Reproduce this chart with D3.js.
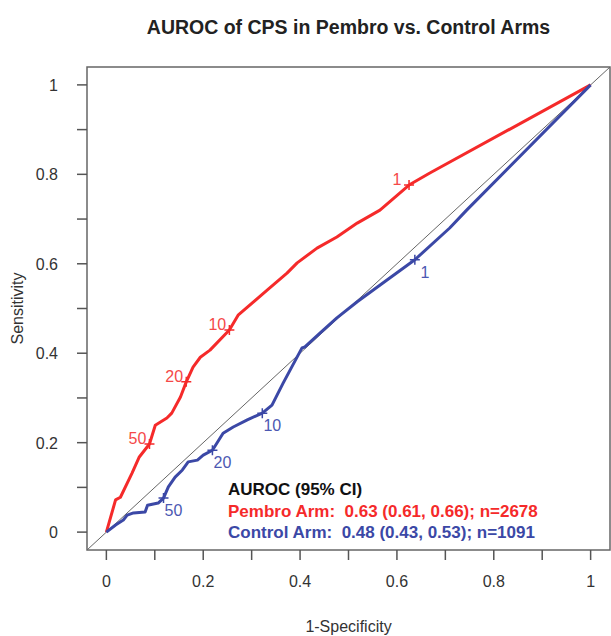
<!DOCTYPE html>
<html lang="en">
<head>
  <meta charset="UTF-8">
  <script src="https://d3js.org/d3.v7.min.js"></script>
  <title>AUROC of CPS</title>
  <style>
    body { margin: 0; background: #fff; font-family: "Liberation Sans", Arial, sans-serif; }
    .tick-label { font-size: 16px; fill: #333; }
    .axis-title { font-size: 16px; fill: #333; }
  </style>
</head>
<body>
  <svg id="chart" width="611" height="636"></svg>
  <script>
    // ROC curve points (1-specificity, sensitivity)
    const pembroFpr = [0, 0.019, 0.029, 0.053, 0.068, 0.089, 0.101, 0.125, 0.135, 0.153, 0.165, 0.179, 0.194, 0.214, 0.254, 0.272, 0.332, 0.373, 0.394, 0.435, 0.476, 0.518, 0.565, 0.625, 0.668, 1];
    const pembroTpr = [0, 0.072, 0.078, 0.132, 0.168, 0.197, 0.239, 0.255, 0.266, 0.302, 0.336, 0.369, 0.391, 0.407, 0.452, 0.485, 0.541, 0.579, 0.602, 0.635, 0.660, 0.691, 0.720, 0.776, 0.803, 1];

    const controlFpr = [0, 0.019, 0.035, 0.043, 0.056, 0.080, 0.085, 0.107, 0.118, 0.128, 0.142, 0.157, 0.169, 0.188, 0.200, 0.219, 0.241, 0.262, 0.291, 0.322, 0.342, 0.365, 0.404, 0.410, 0.441, 0.476, 0.518, 0.571, 0.637, 0.709, 0.744, 1];
    const controlTpr = [0, 0.016, 0.027, 0.038, 0.043, 0.045, 0.060, 0.065, 0.076, 0.101, 0.123, 0.139, 0.157, 0.161, 0.172, 0.183, 0.221, 0.235, 0.251, 0.266, 0.284, 0.333, 0.412, 0.414, 0.445, 0.479, 0.515, 0.557, 0.609, 0.680, 0.720, 1];

    // CPS cutoffs marked on each curve
    const cutoffLabels = ["50", "20", "10", "1"];
    const pembroCutFpr = [0.089, 0.165, 0.254, 0.625];
    const pembroCutTpr = [0.197, 0.336, 0.452, 0.776];
    const controlCutFpr = [0.118, 0.219, 0.322, 0.637];
    const controlCutTpr = [0.076, 0.183, 0.266, 0.609];

    const legendLines = [
      "AUROC (95% CI)",
      "Pembro Arm:  0.63 (0.61, 0.66); n=2678",
      "Control Arm:  0.48 (0.43, 0.53); n=1091"
    ];

    const xTicks = [0, 0.1, 0.2, 0.3, 0.4, 0.5, 0.6, 0.7, 0.8, 0.9, 1];
    const tickLabels = [0, 0.2, 0.4, 0.6, 0.8, 1];

    const red = "#f52a2a";
    const blue = "#3b48a6";

    const svg = d3.select("#chart");
    const plotL = 87, plotR = 610, plotT = 67, plotB = 550;
    const midX = (plotL + plotR) / 2, midY = (plotT + plotB) / 2;

    const x = d3.scaleLinear().domain([-0.04, 1.04]).range([plotL, plotR]);
    const y = d3.scaleLinear().domain([-0.04, 1.04]).range([plotB, plotT]);

    svg.append("text")
      .attr("x", midX).attr("y", 34)
      .attr("text-anchor", "middle")
      .attr("font-size", 19.5).attr("font-weight", "bold").attr("fill", "#222")
      .text("AUROC of CPS in Pembro vs. Control Arms");

    // diagonal reference
    svg.append("line")
      .attr("x1", x(-0.04)).attr("y1", y(-0.04))
      .attr("x2", x(1.04)).attr("y2", y(1.04))
      .attr("stroke", "#666").attr("stroke-width", 1);

    const line = d3.line().x(d => x(d[0])).y(d => y(d[1]));

    const series = [
      { fpr: pembroFpr, tpr: pembroTpr, cf: pembroCutFpr, ct: pembroCutTpr, color: red, labColor: "#f54848", dx: -12, dy: 0 },
      { fpr: controlFpr, tpr: controlTpr, cf: controlCutFpr, ct: controlCutTpr, color: blue, labColor: "#4c58b2", dx: 10, dy: 18 }
    ];

    series.forEach(s => {
      svg.append("path")
        .datum(d3.zip(s.fpr, s.tpr))
        .attr("d", line)
        .attr("fill", "none")
        .attr("stroke", s.color)
        .attr("stroke-width", 3)
        .attr("stroke-linejoin", "round");

      s.cf.forEach((v, i) => {
        const cx = x(v), cy = y(s.ct[i]);
        svg.append("path")
          .attr("d", `M${cx - 5},${cy}H${cx + 5}M${cx},${cy - 5}V${cy + 5}`)
          .attr("stroke", s.color).attr("stroke-width", 1.5);
        svg.append("text")
          .attr("x", cx + s.dx).attr("y", cy + s.dy)
          .attr("text-anchor", "middle")
          .attr("font-size", 16).attr("fill", s.labColor)
          .text(cutoffLabels[i]);
      });
    });

    // frame
    svg.append("rect")
      .attr("x", plotL).attr("y", plotT)
      .attr("width", plotR - plotL).attr("height", plotB - plotT)
      .attr("fill", "none").attr("stroke", "#666").attr("stroke-width", 1.5);

    // ticks every 0.1 on both axes
    xTicks.forEach(t => {
      svg.append("line")
        .attr("x1", x(t)).attr("x2", x(t))
        .attr("y1", plotB).attr("y2", plotB + 10)
        .attr("stroke", "#555").attr("stroke-width", 1.5);
      svg.append("line")
        .attr("y1", y(t)).attr("y2", y(t))
        .attr("x1", plotL).attr("x2", plotL - 10)
        .attr("stroke", "#555").attr("stroke-width", 1.5);
    });
    tickLabels.forEach(t => {
      svg.append("text").attr("class", "tick-label")
        .attr("x", x(t)).attr("y", 587)
        .attr("text-anchor", "middle")
        .text(d3.format("~g")(t));
      svg.append("text").attr("class", "tick-label")
        .attr("x", 58).attr("y", y(t) + 6)
        .attr("text-anchor", "end")
        .text(d3.format("~g")(t));
    });

    svg.append("text").attr("class", "axis-title")
      .attr("x", midX).attr("y", 632)
      .attr("text-anchor", "middle")
      .text("1-Specificity");
    svg.append("text").attr("class", "axis-title")
      .attr("transform", `translate(23,${midY}) rotate(-90)`)
      .attr("text-anchor", "middle")
      .text("Sensitivity");

    // legend
    const legColors = ["#111", red, blue];
    legendLines.forEach((txt, i) => {
      svg.append("text")
        .attr("x", 228).attr("y", 495 + i * 21.5)
        .attr("font-size", 17).attr("font-weight", "bold")
        .attr("fill", legColors[i])
        .style("white-space", "pre")
        .text(txt);
    });
  </script>
</body>
</html>
